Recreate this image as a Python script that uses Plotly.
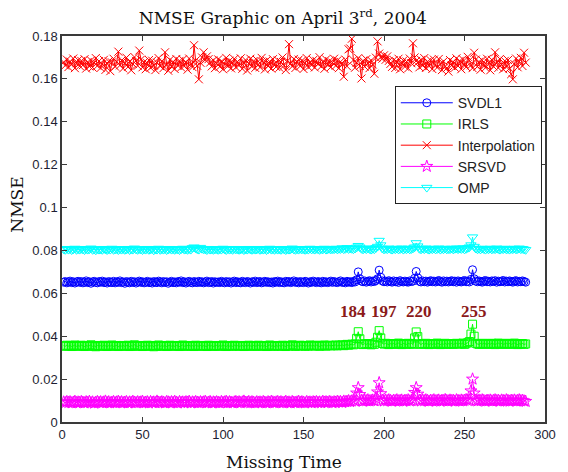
import plotly.graph_objects as go

missing_time = list(range(1, 289))

svdl1 = [
0.0652,0.0655,0.0649,0.0653,0.0657,0.0650,0.0654,0.0648,0.0653,0.0656,0.0651,0.0655,
0.0649,0.0652,0.0658,0.0650,0.0654,0.0647,0.0653,0.0656,0.0651,0.0649,0.0655,0.0652,
0.0657,0.0650,0.0653,0.0648,0.0655,0.0652,0.0650,0.0656,0.0649,0.0654,0.0651,0.0658,
0.0650,0.0653,0.0647,0.0655,0.0652,0.0649,0.0656,0.0651,0.0654,0.0648,0.0653,0.0657,
0.0651,0.0654,0.0649,0.0652,0.0656,0.0650,0.0653,0.0648,0.0655,0.0652,0.0650,0.0657,
0.0653,0.0649,0.0655,0.0651,0.0654,0.0647,0.0652,0.0656,0.0650,0.0653,0.0649,0.0655,
0.0652,0.0658,0.0650,0.0654,0.0648,0.0653,0.0656,0.0651,0.0649,0.0655,0.0652,0.0650,
0.0656,0.0651,0.0654,0.0649,0.0653,0.0657,0.0650,0.0652,0.0655,0.0648,0.0654,0.0651,
0.0653,0.0650,0.0656,0.0652,0.0649,0.0655,0.0651,0.0654,0.0648,0.0653,0.0657,0.0650,
0.0654,0.0651,0.0649,0.0656,0.0652,0.0650,0.0655,0.0653,0.0648,0.0654,0.0651,0.0657,
0.0650,0.0653,0.0655,0.0649,0.0652,0.0656,0.0651,0.0654,0.0650,0.0653,0.0648,0.0655,
0.0652,0.0657,0.0650,0.0654,0.0651,0.0649,0.0656,0.0652,0.0655,0.0650,0.0653,0.0658,
0.0651,0.0654,0.0649,0.0655,0.0652,0.0650,0.0656,0.0653,0.0648,0.0654,0.0651,0.0657,
0.0653,0.0650,0.0655,0.0652,0.0649,0.0656,0.0651,0.0654,0.0650,0.0653,0.0657,0.0651,
0.0655,0.0652,0.0650,0.0654,0.0658,0.0651,0.0653,0.0649,0.0656,0.0652,0.0654,0.0650,
0.0656,0.0653,0.0663,0.0700,0.0668,0.0657,0.0654,0.0658,0.0652,0.0656,0.0659,0.0653,
0.0657,0.0655,0.0660,0.0668,0.0708,0.0675,0.0658,0.0654,0.0657,0.0653,0.0659,0.0655,
0.0652,0.0658,0.0654,0.0656,0.0651,0.0659,0.0655,0.0653,0.0657,0.0654,0.0652,0.0658,
0.0655,0.0657,0.0670,0.0702,0.0672,0.0656,0.0653,0.0658,0.0654,0.0657,0.0652,0.0656,
0.0659,0.0654,0.0657,0.0653,0.0656,0.0660,0.0655,0.0652,0.0658,0.0654,0.0657,0.0653,
0.0656,0.0659,0.0654,0.0657,0.0652,0.0658,0.0655,0.0653,0.0657,0.0660,0.0654,0.0656,
0.0653,0.0665,0.0710,0.0668,0.0657,0.0654,0.0658,0.0655,0.0652,0.0657,0.0660,0.0654,
0.0656,0.0653,0.0658,0.0655,0.0659,0.0652,0.0657,0.0654,0.0656,0.0660,0.0653,0.0657,
0.0654,0.0658,0.0655,0.0652,0.0657,0.0659,0.0653,0.0656,0.0654,0.0658,0.0655,0.0652,
]

irls = [
0.0356,0.0353,0.0358,0.0354,0.0357,0.0352,0.0355,0.0359,0.0353,0.0356,0.0354,0.0358,
0.0355,0.0352,0.0357,0.0354,0.0356,0.0360,0.0353,0.0355,0.0351,0.0357,0.0354,0.0356,
0.0353,0.0358,0.0355,0.0352,0.0356,0.0354,0.0359,0.0353,0.0355,0.0357,0.0352,0.0356,
0.0354,0.0357,0.0353,0.0355,0.0358,0.0352,0.0356,0.0354,0.0360,0.0355,0.0353,0.0357,
0.0355,0.0352,0.0356,0.0354,0.0358,0.0353,0.0355,0.0357,0.0351,0.0356,0.0354,0.0359,
0.0353,0.0356,0.0354,0.0357,0.0352,0.0355,0.0358,0.0354,0.0356,0.0353,0.0357,0.0355,
0.0352,0.0356,0.0359,0.0354,0.0355,0.0353,0.0357,0.0354,0.0356,0.0352,0.0358,0.0355,
0.0354,0.0357,0.0353,0.0356,0.0355,0.0352,0.0358,0.0354,0.0356,0.0353,0.0355,0.0357,
0.0353,0.0356,0.0354,0.0359,0.0355,0.0352,0.0357,0.0354,0.0356,0.0353,0.0358,0.0355,
0.0356,0.0353,0.0355,0.0357,0.0352,0.0356,0.0354,0.0358,0.0355,0.0353,0.0357,0.0354,
0.0355,0.0358,0.0353,0.0356,0.0354,0.0357,0.0352,0.0355,0.0359,0.0354,0.0356,0.0353,
0.0357,0.0354,0.0356,0.0353,0.0358,0.0355,0.0352,0.0357,0.0354,0.0356,0.0360,0.0355,
0.0353,0.0356,0.0354,0.0358,0.0355,0.0357,0.0353,0.0356,0.0354,0.0359,0.0355,0.0357,
0.0354,0.0358,0.0356,0.0353,0.0357,0.0355,0.0359,0.0354,0.0356,0.0358,0.0355,0.0357,
0.0356,0.0359,0.0355,0.0358,0.0357,0.0360,0.0356,0.0359,0.0362,0.0358,0.0361,0.0363,
0.0360,0.0364,0.0390,0.0421,0.0388,0.0363,0.0361,0.0365,0.0362,0.0366,0.0363,0.0360,
0.0364,0.0362,0.0372,0.0395,0.0426,0.0392,0.0366,0.0363,0.0367,0.0364,0.0361,0.0365,
0.0363,0.0366,0.0362,0.0365,0.0368,0.0363,0.0361,0.0366,0.0364,0.0362,0.0367,0.0364,
0.0366,0.0362,0.0392,0.0420,0.0398,0.0365,0.0362,0.0366,0.0363,0.0367,0.0364,0.0361,
0.0365,0.0362,0.0366,0.0363,0.0368,0.0364,0.0361,0.0365,0.0363,0.0367,0.0362,0.0365,
0.0363,0.0366,0.0362,0.0365,0.0367,0.0363,0.0366,0.0364,0.0368,0.0362,0.0365,0.0370,
0.0375,0.0410,0.0456,0.0400,0.0367,0.0364,0.0362,0.0366,0.0363,0.0367,0.0365,0.0362,
0.0366,0.0363,0.0367,0.0364,0.0361,0.0365,0.0368,0.0363,0.0366,0.0362,0.0365,0.0367,
0.0363,0.0366,0.0362,0.0365,0.0368,0.0364,0.0361,0.0365,0.0363,0.0366,0.0362,0.0364,
]

interpolation = [
0.1678,0.1662,0.1690,0.1655,0.1681,0.1667,0.1695,0.1650,0.1673,0.1688,0.1660,0.1684,
0.1664,0.1692,0.1648,0.1679,0.1658,0.1686,0.1653,0.1675,0.1697,0.1661,0.1683,0.1651,
0.1669,0.1689,0.1642,0.1671,0.1682,0.1636,0.1677,0.1694,0.1657,0.1680,0.1727,0.1663,
0.1686,0.1649,0.1674,0.1699,0.1656,0.1682,0.1640,0.1670,0.1702,0.1684,0.1661,0.1732,
0.1690,0.1654,0.1679,0.1645,0.1673,0.1688,0.1652,0.1685,0.1663,0.1641,0.1676,0.1697,
0.1659,0.1683,0.1650,0.1724,0.1668,0.1638,0.1689,0.1657,0.1680,0.1646,0.1693,0.1662,
0.1684,0.1653,0.1690,0.1660,0.1678,0.1643,0.1695,0.1669,0.1655,0.1757,0.1686,0.1661,
0.1598,0.1675,0.1700,0.1724,0.1689,0.1705,0.1692,0.1676,0.1658,0.1687,0.1650,0.1673,
0.1691,0.1657,0.1682,0.1645,0.1670,0.1698,0.1660,0.1685,0.1649,0.1677,0.1693,0.1654,
0.1680,0.1663,0.1696,0.1647,0.1674,0.1688,0.1639,0.1671,0.1694,0.1658,0.1683,0.1651,
0.1689,0.1666,0.1654,0.1698,0.1677,0.1644,0.1686,0.1660,0.1681,0.1648,0.1692,0.1669,
0.1656,0.1687,0.1652,0.1679,0.1700,0.1663,0.1641,0.1684,0.1762,0.1672,0.1658,0.1693,
0.1651,0.1681,0.1690,0.1660,0.1685,0.1646,0.1675,0.1697,0.1655,0.1679,0.1664,0.1688,
0.1653,0.1684,0.1669,0.1701,0.1658,0.1680,0.1647,0.1691,0.1666,0.1683,0.1655,0.1676,
0.1694,0.1661,0.1686,0.1650,0.1680,0.1668,0.1610,0.1690,0.1659,0.1738,0.1742,0.1787,
0.1688,0.1652,0.1676,0.1697,0.1660,0.1602,0.1684,0.1657,0.1692,0.1673,0.1650,0.1686,
0.1667,0.1624,0.1699,0.1775,0.1718,0.1702,0.1694,0.1710,0.1689,0.1705,0.1684,0.1670,
0.1656,0.1688,0.1651,0.1679,0.1694,0.1645,0.1672,0.1686,0.1657,0.1681,0.1649,0.1695,
0.1673,0.1766,0.1700,0.1684,0.1677,0.1654,0.1689,0.1662,0.1697,0.1651,0.1680,0.1659,
0.1687,0.1646,0.1690,0.1665,0.1653,0.1693,0.1670,0.1641,0.1682,0.1658,0.1650,0.1634,
0.1688,0.1662,0.1679,0.1652,0.1696,0.1660,0.1684,0.1645,0.1691,0.1668,0.1655,0.1703,
0.1686,0.1663,0.1650,0.1722,0.1690,0.1657,0.1680,0.1643,0.1687,0.1666,0.1652,0.1694,
0.1675,0.1640,0.1689,0.1658,0.1724,0.1679,0.1651,0.1693,0.1667,0.1645,0.1684,0.1656,
0.1688,0.1649,0.1622,0.1598,0.1669,0.1695,0.1654,0.1681,0.1698,0.1660,0.1722,0.1676,
]

srsvd = [
0.0093,0.0090,0.0095,0.0091,0.0094,0.0089,0.0092,0.0096,0.0090,0.0093,0.0091,0.0095,
0.0092,0.0089,0.0094,0.0091,0.0096,0.0090,0.0093,0.0088,0.0092,0.0095,0.0091,0.0094,
0.0090,0.0093,0.0097,0.0091,0.0094,0.0089,0.0092,0.0095,0.0090,0.0093,0.0096,0.0091,
0.0094,0.0090,0.0092,0.0095,0.0089,0.0093,0.0091,0.0096,0.0092,0.0090,0.0094,0.0091,
0.0093,0.0096,0.0090,0.0092,0.0094,0.0089,0.0095,0.0091,0.0093,0.0090,0.0097,0.0092,
0.0091,0.0094,0.0092,0.0089,0.0095,0.0093,0.0090,0.0094,0.0091,0.0096,0.0092,0.0089,
0.0095,0.0091,0.0093,0.0090,0.0094,0.0092,0.0096,0.0089,0.0093,0.0091,0.0095,0.0092,
0.0090,0.0094,0.0091,0.0093,0.0096,0.0090,0.0092,0.0095,0.0089,0.0093,0.0091,0.0094,
0.0092,0.0089,0.0095,0.0091,0.0093,0.0096,0.0090,0.0094,0.0092,0.0089,0.0093,0.0095,
0.0091,0.0094,0.0090,0.0093,0.0097,0.0091,0.0092,0.0095,0.0090,0.0094,0.0092,0.0089,
0.0094,0.0091,0.0093,0.0090,0.0095,0.0092,0.0089,0.0094,0.0091,0.0096,0.0093,0.0090,
0.0093,0.0095,0.0091,0.0094,0.0090,0.0092,0.0096,0.0091,0.0093,0.0089,0.0095,0.0092,
0.0090,0.0093,0.0096,0.0091,0.0094,0.0092,0.0089,0.0095,0.0091,0.0093,0.0090,0.0094,
0.0092,0.0095,0.0091,0.0093,0.0090,0.0096,0.0092,0.0094,0.0091,0.0095,0.0093,0.0090,
0.0094,0.0092,0.0096,0.0093,0.0095,0.0091,0.0097,0.0094,0.0096,0.0099,0.0095,0.0098,
0.0102,0.0098,0.0135,0.0160,0.0128,0.0100,0.0097,0.0101,0.0099,0.0103,0.0098,0.0100,
0.0102,0.0099,0.0110,0.0140,0.0183,0.0132,0.0101,0.0098,0.0102,0.0099,0.0103,0.0100,
0.0097,0.0101,0.0099,0.0103,0.0098,0.0100,0.0102,0.0097,0.0101,0.0099,0.0103,0.0098,
0.0100,0.0104,0.0138,0.0160,0.0130,0.0101,0.0098,0.0102,0.0099,0.0103,0.0100,0.0097,
0.0101,0.0099,0.0103,0.0098,0.0100,0.0102,0.0097,0.0101,0.0099,0.0104,0.0100,0.0098,
0.0102,0.0099,0.0101,0.0097,0.0103,0.0100,0.0098,0.0102,0.0099,0.0101,0.0104,0.0100,
0.0103,0.0145,0.0200,0.0135,0.0101,0.0098,0.0102,0.0099,0.0103,0.0100,0.0097,0.0101,
0.0099,0.0102,0.0098,0.0100,0.0103,0.0099,0.0101,0.0097,0.0102,0.0100,0.0098,0.0103,
0.0100,0.0097,0.0101,0.0099,0.0102,0.0098,0.0100,0.0103,0.0099,0.0101,0.0098,0.0096,
]

omp = [
0.0806,0.0803,0.0808,0.0804,0.0807,0.0802,0.0805,0.0809,0.0803,0.0806,0.0804,0.0808,
0.0805,0.0802,0.0807,0.0804,0.0806,0.0810,0.0803,0.0805,0.0801,0.0807,0.0804,0.0806,
0.0803,0.0808,0.0805,0.0802,0.0806,0.0804,0.0809,0.0803,0.0805,0.0807,0.0802,0.0806,
0.0804,0.0807,0.0803,0.0805,0.0808,0.0802,0.0806,0.0804,0.0810,0.0805,0.0803,0.0807,
0.0805,0.0802,0.0806,0.0804,0.0808,0.0803,0.0805,0.0807,0.0801,0.0806,0.0804,0.0809,
0.0803,0.0806,0.0804,0.0807,0.0802,0.0805,0.0808,0.0804,0.0806,0.0803,0.0807,0.0805,
0.0802,0.0806,0.0809,0.0804,0.0805,0.0803,0.0807,0.0804,0.0812,0.0815,0.0810,0.0806,
0.0804,0.0813,0.0808,0.0806,0.0805,0.0802,0.0808,0.0804,0.0806,0.0803,0.0805,0.0807,
0.0803,0.0806,0.0804,0.0809,0.0805,0.0802,0.0807,0.0804,0.0806,0.0803,0.0808,0.0805,
0.0806,0.0803,0.0805,0.0807,0.0802,0.0806,0.0804,0.0808,0.0805,0.0803,0.0807,0.0804,
0.0805,0.0808,0.0803,0.0806,0.0804,0.0807,0.0802,0.0805,0.0809,0.0804,0.0806,0.0803,
0.0807,0.0804,0.0806,0.0803,0.0808,0.0805,0.0802,0.0807,0.0804,0.0806,0.0810,0.0805,
0.0803,0.0806,0.0804,0.0808,0.0805,0.0807,0.0803,0.0806,0.0804,0.0809,0.0805,0.0807,
0.0804,0.0808,0.0806,0.0803,0.0807,0.0805,0.0809,0.0804,0.0806,0.0808,0.0805,0.0807,
0.0806,0.0809,0.0805,0.0808,0.0807,0.0811,0.0806,0.0808,0.0812,0.0807,0.0810,0.0808,
0.0806,0.0809,0.0814,0.0822,0.0815,0.0808,0.0805,0.0809,0.0806,0.0810,0.0807,0.0804,
0.0808,0.0806,0.0812,0.0818,0.0846,0.0825,0.0809,0.0805,0.0808,0.0806,0.0810,0.0807,
0.0804,0.0808,0.0806,0.0809,0.0805,0.0807,0.0810,0.0804,0.0808,0.0806,0.0809,0.0805,
0.0807,0.0810,0.0815,0.0835,0.0820,0.0808,0.0805,0.0809,0.0806,0.0810,0.0807,0.0804,
0.0808,0.0806,0.0809,0.0805,0.0807,0.0810,0.0804,0.0808,0.0806,0.0809,0.0805,0.0807,
0.0806,0.0809,0.0805,0.0808,0.0810,0.0806,0.0809,0.0807,0.0811,0.0805,0.0808,0.0812,
0.0815,0.0825,0.0862,0.0818,0.0809,0.0806,0.0808,0.0805,0.0809,0.0807,0.0804,0.0808,
0.0806,0.0809,0.0805,0.0808,0.0806,0.0810,0.0807,0.0804,0.0808,0.0806,0.0809,0.0805,
0.0807,0.0804,0.0808,0.0806,0.0809,0.0805,0.0807,0.0810,0.0806,0.0808,0.0805,0.0803,
]

spike_labels = ["184", "197", "220", "255"]
spike_label_x = [180.5, 200, 222, 256]
spike_label_y = [0.0515, 0.0515, 0.0515, 0.0515]

x_ticks = [0, 50, 100, 150, 200, 250, 300]
y_ticks = [0, 0.02, 0.04, 0.06, 0.08, 0.1, 0.12, 0.14, 0.16, 0.18]
y_tick_text = ["0", "0.02", "0.04", "0.06", "0.08", "0.1", "0.12", "0.14", "0.16", "0.18"]

series = [
    ("SVDL1", svdl1, "#0000FF", "circle-open", 8),
    ("IRLS", irls, "#00FF00", "square-open", 8),
    ("Interpolation", interpolation, "#FF0000", "x-thin", 8),
    ("SRSVD", srsvd, "#FF00FF", "star-open", 9),
    ("OMP", omp, "#00FFFF", "triangle-down-open", 9),
]

fig = go.Figure()
for name, vals, color, sym, size in series:
    fig.add_trace(go.Scatter(
        x=missing_time, y=vals, name=name, mode="lines+markers",
        line=dict(color=color, width=1),
        marker=dict(symbol=sym, size=size, color=color,
                    line=dict(color=color, width=1)),
    ))

for t, xv, yv in zip(spike_labels, spike_label_x, spike_label_y):
    fig.add_annotation(x=xv, y=yv, text="<b>" + t + "</b>", showarrow=False,
                       font=dict(family="Liberation Serif", size=17, color="#8B1A1A"),
                       xanchor="center", yanchor="middle")

# axis labels
fig.add_annotation(xref="paper", yref="paper", x=0.459, y=-0.103,
                   text="Missing Time", showarrow=False,
                   font=dict(family="DejaVu Serif", size=17, color="#111111"),
                   xanchor="center", yanchor="middle")
fig.add_annotation(xref="paper", yref="paper", x=-0.094, y=0.562,
                   text="NMSE", showarrow=False, textangle=-90,
                   font=dict(family="DejaVu Serif", size=17, color="#111111"),
                   xanchor="center", yanchor="middle")

axis_common = dict(
    showline=True, linecolor="#3a3a3a", linewidth=1.5, mirror="ticks",
    ticks="inside", ticklen=5, tickcolor="#3a3a3a", tickwidth=1,
    showgrid=False, zeroline=False,
    tickfont=dict(family="Liberation Sans", size=13, color="#1e1e32"),
)

fig.update_layout(
    width=568, height=472,
    margin=dict(l=62, r=16, t=36, b=50),
    paper_bgcolor="white", plot_bgcolor="white",
    title=dict(text="NMSE Graphic on April 3<sup>rd</sup>, 2004",
               x=0.498, xanchor="center", xref="container",
               y=0.962, yanchor="middle", yref="container",
               font=dict(family="DejaVu Serif", size=17, color="#111111")),
    xaxis=dict(range=[0, 300], tickvals=x_ticks, **axis_common),
    yaxis=dict(range=[0, 0.18], tickvals=y_ticks, ticktext=y_tick_text, **axis_common),
    showlegend=True,
    legend=dict(x=0.689, y=0.870, xanchor="left", yanchor="top",
                bgcolor="white", bordercolor="#222222", borderwidth=1,
                font=dict(family="Liberation Sans", size=14, color="#222222"),
                itemwidth=52, tracegroupgap=0),
)

fig.write_html("out.html")
